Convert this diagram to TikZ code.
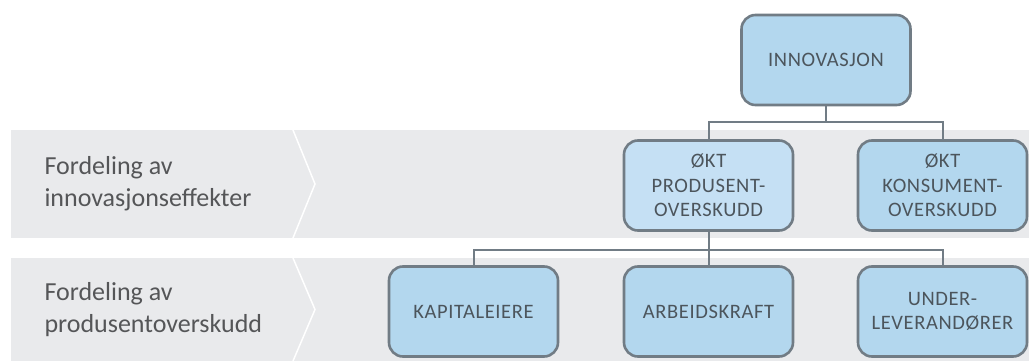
\documentclass[tikz,border=0pt]{standalone}
\usepackage{fontspec}
\setmainfont{Carlito}
\newfontfamily\boxfont[LetterSpace=3]{Carlito}
\usetikzlibrary{positioning}

\definecolor{bandgray}{HTML}{E9EAEC}
\definecolor{boxblue}{HTML}{B3D7EE}
\definecolor{boxlight}{HTML}{C5E0F4}
\definecolor{linegray}{HTML}{717C85}
\definecolor{boxtext}{HTML}{4C555C}
\definecolor{sidetext}{HTML}{555658}

\tikzset{
	box/.style={draw=linegray, line width=2.6pt, rounded corners=14pt, fill=boxblue,
		minimum width=169pt, minimum height=90pt, align=center, text=boxtext,
		font=\boxfont\fontsize{20.5}{24.5}\selectfont},
	link/.style={draw=linegray, line width=2pt},
	side/.style={anchor=west, align=left, text=sidetext, font=\fontsize{26}{32}\selectfont}
}

\begin{document}
\begin{tikzpicture}[x=1pt, y=-1pt]
		\useasboundingbox (0,0) rectangle (1029,361);
		%bands
		\foreach \i/\t/\b/\lab in {1/130/238/{Fordeling av\\innovasjonseffekter}, 2/258/361/{Fordeling av\\produsentoverskudd}}{
			\fill[bandgray] (11,\t) rectangle (1029,\b);
			\draw[white, line width=1.5pt] (293,\t) -- (315,{(\t+\b)/2}) -- (293,\b);
			\node[side] (lab\i) at (41,{(\t+\b)/2}) {\lab};
		}
		
		%boxes
		\node[box] (innov) at (826,60) {INNOVASJON};
		\node[box, fill=boxlight] (prod) at (708.5,185.5) {ØKT\\PRODUSENT-\\OVERSKUDD};
		\node[box] (kons) at (942.5,185.5) {ØKT\\KONSUMENT-\\OVERSKUDD};
		\node[box] (kap) at (473.5,311.5) {KAPITALEIERE};
		\node[box] (arb) at (708.5,311.5) {ARBEIDSKRAFT};
		\node[box] (under) at (942.5,311.5) {UNDER-\\LEVERANDØRER};
		
		%links
		\draw[link] (innov.south) -- ++(0,16) coordinate (top) -| (prod.north);
		\draw[link] (top) -| (kons.north);
		\draw[link] (prod.south) -- ++(0,18) coordinate (mid) -| (kap.north);
		\draw[link] (mid) -- (arb.north);
		\draw[link] (mid) -| (under.north);
\end{tikzpicture}
\end{document}
